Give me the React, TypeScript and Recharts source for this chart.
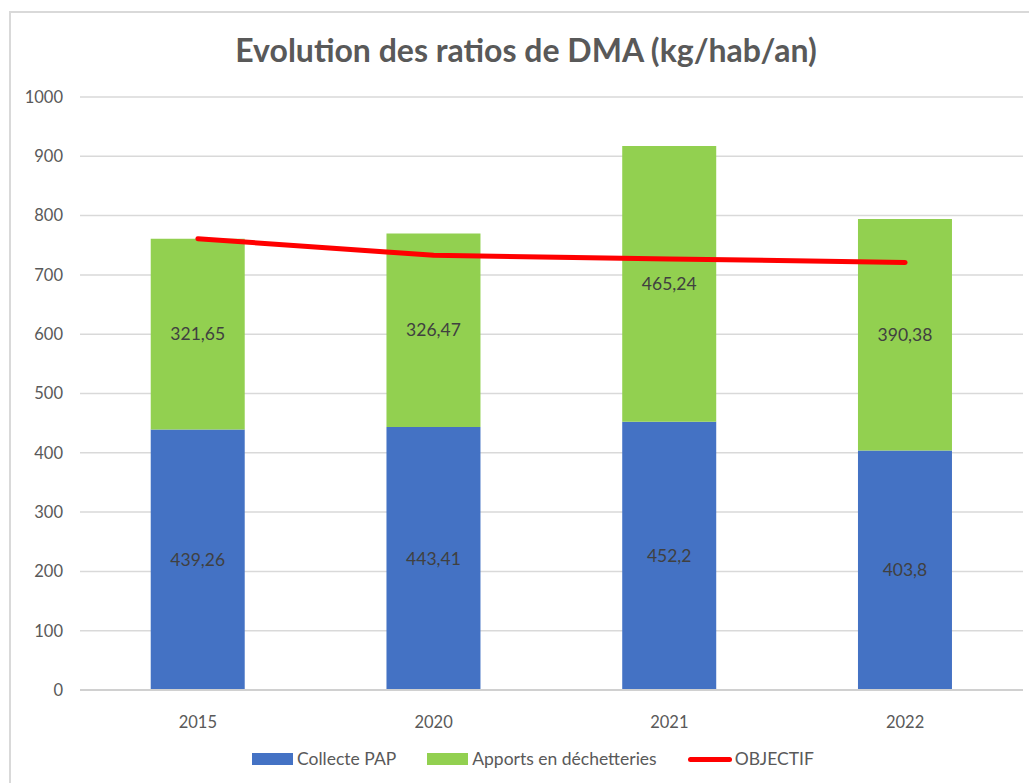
import {
  Bar,
  CartesianGrid,
  ComposedChart,
  LabelList,
  Line,
  XAxis,
  YAxis,
} from 'recharts';

const years = ['2015', '2020', '2021', '2022'];
const collectePap = [439.26, 443.41, 452.2, 403.8];
const apportsDechetteries = [321.65, 326.47, 465.24, 390.38];
const objectif = [761, 733, 727, 721];
const yTicks = [0, 100, 200, 300, 400, 500, 600, 700, 800, 900, 1000];

const FONT = 'Lato, "Open Sans", sans-serif';
const TEXT = '#595959';

const data = years.map((year, i) => ({
  year,
  collecte: collectePap[i],
  apports: apportsDechetteries[i],
  objectif: objectif[i],
}));

const frenchNumber = (v: unknown) => String(v).replace('.', ',');

const legendItems = [
  { label: 'Collecte PAP', color: '#4472C4', kind: 'box' },
  { label: 'Apports en déchetteries', color: '#92D050', kind: 'box' },
  { label: 'OBJECTIF', color: '#FF0000', kind: 'line' },
];

export default function App() {
  return (
    <div
      style={{
        position: 'absolute',
        left: 0,
        top: 0,
        width: 1029,
        height: 783,
        overflow: 'hidden',
        background: '#fff',
        fontFamily: FONT,
      }}
    >
      <div
        style={{
          position: 'absolute',
          left: 9,
          top: 11,
          width: 1040,
          height: 800,
          border: '2px solid #d9d9d9',
        }}
      />
      <div
        style={{
          position: 'absolute',
          left: 0,
          width: 1052,
          top: 30,
          textAlign: 'center',
          fontSize: 32,
          fontWeight: 700,
          color: TEXT,
          lineHeight: '40px',
        }}
      >
        Evolution des ratios de DMA (kg/hab/an)
      </div>
      <div style={{ position: 'absolute', left: 0, top: 0 }}>
        <ComposedChart
          width={1029}
          height={783}
          data={data}
          margin={{ top: 97, right: 6, left: 20, bottom: 53 }}
          barCategoryGap="30%"
        >
          <CartesianGrid vertical={false} stroke="#d9d9d9" strokeWidth={1.5} />
          <XAxis
            dataKey="year"
            height={40}
            tickLine={false}
            axisLine={{ stroke: '#d0d0d0', strokeWidth: 2 }}
            tickMargin={20}
            tick={{ fontSize: 16.5, fill: TEXT, fontFamily: FONT }}
          />
          <YAxis
            width={60}
            domain={[0, 1000]}
            ticks={yTicks}
            interval={0}
            tickLine={false}
            axisLine={false}
            tickSize={0}
            tickMargin={17}
            tick={{ fontSize: 16.5, fill: TEXT, fontFamily: FONT }}
          />
          <Bar dataKey="collecte" stackId="a" fill="#4472C4" isAnimationActive={false}>
            <LabelList
              dataKey="collecte"
              position="center"
              formatter={frenchNumber}
              style={{ fontSize: 17.5, fill: '#404040', fontFamily: FONT }}
            />
          </Bar>
          <Bar dataKey="apports" stackId="a" fill="#92D050" isAnimationActive={false}>
            <LabelList
              dataKey="apports"
              position="center"
              formatter={frenchNumber}
              style={{ fontSize: 17.5, fill: '#404040', fontFamily: FONT }}
            />
          </Bar>
          <Line
            type="linear"
            dataKey="objectif"
            stroke="#FF0000"
            strokeWidth={5}
            strokeLinecap="round"
            dot={false}
            activeDot={false}
            isAnimationActive={false}
          />
        </ComposedChart>
      </div>
      <div
        style={{
          position: 'absolute',
          left: 252,
          top: 746,
          display: 'flex',
          alignItems: 'center',
          fontSize: 17.5,
          color: TEXT,
          lineHeight: '26px',
        }}
      >
        {legendItems.map((item) => (
          <div key={item.label} style={{ display: 'flex', alignItems: 'center', marginRight: 31 }}>
            {item.kind === 'box' ? (
              <span style={{ width: 41, height: 12, background: item.color, marginRight: 4 }} />
            ) : (
              <span
                style={{
                  width: 44,
                  height: 5,
                  borderRadius: 3,
                  background: item.color,
                  marginRight: 3,
                }}
              />
            )}
            <span>{item.label}</span>
          </div>
        ))}
      </div>
    </div>
  );
}
